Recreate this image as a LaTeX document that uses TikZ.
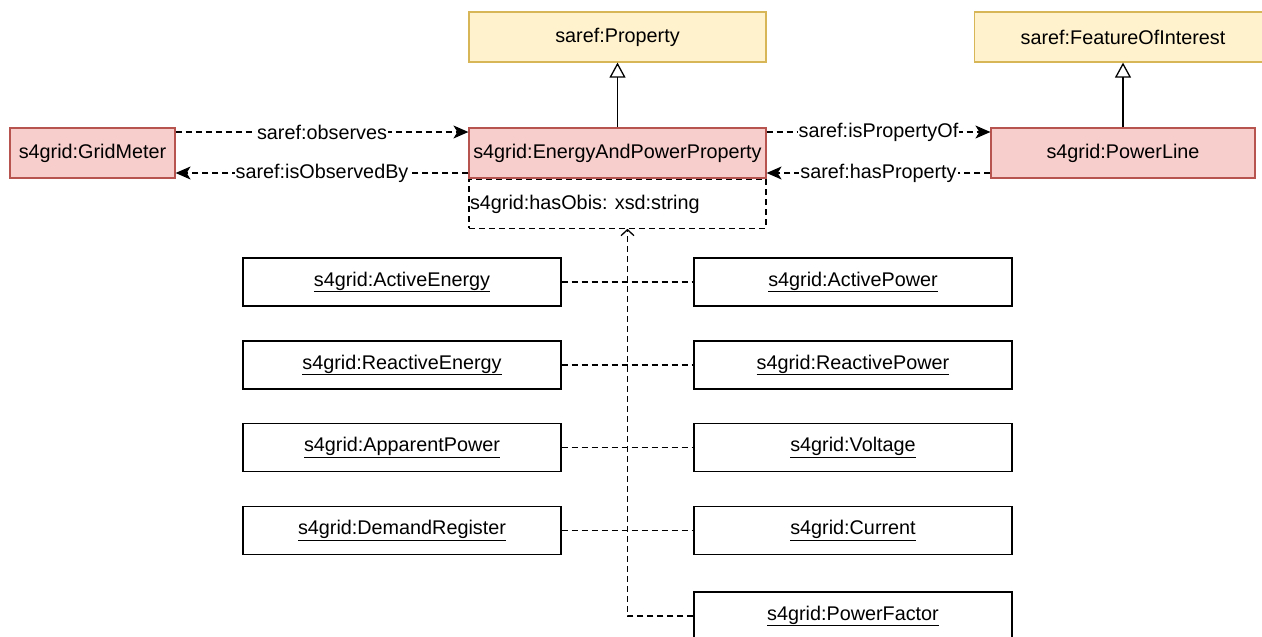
\documentclass[tikz,border=0pt]{standalone}
\usepackage{fontspec}
\setmainfont{Liberation Sans}
\usetikzlibrary{arrows.meta}
\definecolor{yfill}{HTML}{FFF2CC}
\definecolor{ydraw}{HTML}{D6B656}
\definecolor{rfill}{HTML}{F8CECC}
\definecolor{rdraw}{HTML}{B85450}
\tikzset{
  base/.style={rectangle, inner sep=0pt, line width=1.2pt, font=\fontsize{19.8}{23}\selectfont, text=black},
  classy/.style={base, fill=yfill, draw=ydraw, minimum height=50pt},
  classr/.style={base, fill=rfill, draw=rdraw, minimum height=50pt},
  indiv/.style={base, fill=white, draw=black, minimum width=318pt, minimum height=48pt},
  attrbox/.style={base, draw=black, dashpat, minimum width=297pt, minimum height=49pt, line width=1.2pt},
  dashpat/.style={dash pattern=on 6pt off 4pt},
  rel/.style={line width=1.3pt, dashpat, -{Stealth[length=15pt,width=13pt,inset=4pt]}},
  inh/.style={line width=1.3pt, -{Triangle[open,length=15pt,width=16pt]}},
  lnk/.style={line width=1.3pt, dashpat},
  lbl/.style={fill=white, inner sep=1pt, font=\fontsize{19.8}{23}\selectfont, text=black},
}
\begin{document}
\begin{tikzpicture}[x=1pt,y=-1pt]
\useasboundingbox (0,0) rectangle (1262,637);
\fill[white] (0,0) rectangle (1262,637);
% classes
\node[classy, minimum width=297pt] (prop) at (617.5,37) {saref:Property};
\node[classy, minimum width=297pt] (foi) at (1123,37) {saref:FeatureOfInterest};
\node[classr, minimum width=165pt] (gm) at (92.5,153) {s4grid:GridMeter};
\node[classr, minimum width=297pt] (eapp) at (617.5,153) {s4grid:EnergyAndPowerProperty};
\node[attrbox, anchor=north] (attr) at (eapp.south) {};
\node[base, anchor=west] (attrtxt) at ([xshift=1pt,yshift=-1pt]attr.west) {s4grid:hasObis: xsd:string};
\node[classr, minimum width=264pt] (pl) at (1123,153) {s4grid:PowerLine};
% individuals
\node[indiv] (ae) at (402,282) {\underline{s4grid:ActiveEnergy}};
\node[indiv] (re) at (402,365) {\underline{s4grid:ReactiveEnergy}};
\node[indiv] (app) at (402,447.5) {\underline{s4grid:ApparentPower}};
\node[indiv] (dr) at (402,530.5) {\underline{s4grid:DemandRegister}};
\node[indiv] (ap) at (853,282) {\underline{s4grid:ActivePower}};
\node[indiv] (rp) at (853,365) {\underline{s4grid:ReactivePower}};
\node[indiv] (vo) at (853,447.5) {\underline{s4grid:Voltage}};
\node[indiv] (cu) at (853,530.5) {\underline{s4grid:Current}};
\node[indiv] (pf) at (853,616) {\underline{s4grid:PowerFactor}};
% inheritance
\draw[inh] (eapp.north) -- (prop.south);
\draw[inh] (pl.north) -- (foi.south);
% relations
\draw[rel] ([yshift=21pt]gm.east) -- node[lbl]{saref:observes} ([yshift=21pt]eapp.west);
\draw[rel] ([yshift=-20pt]eapp.west) -- node[lbl]{saref:isObservedBy} ([yshift=-20pt]gm.east);
\draw[rel] ([yshift=21pt]eapp.east) -- node[lbl]{saref:isPropertyOf} ([yshift=21pt]pl.west);
\draw[rel] ([yshift=-20pt]pl.west) -- node[lbl]{saref:hasProperty} ([yshift=-20pt]eapp.east);
% instance links
\draw[lnk] (ae.east) -- (ap.west);
\draw[lnk] (re.east) -- (rp.west);
\draw[lnk] (app.east) -- (vo.west);
\draw[lnk] (dr.east) -- (cu.west);
\draw[lnk, -{Straight Barb[length=6pt,width=13pt]}] (pf.west) -| ([xshift=10pt]attr.south);
\end{tikzpicture}
\end{document}
